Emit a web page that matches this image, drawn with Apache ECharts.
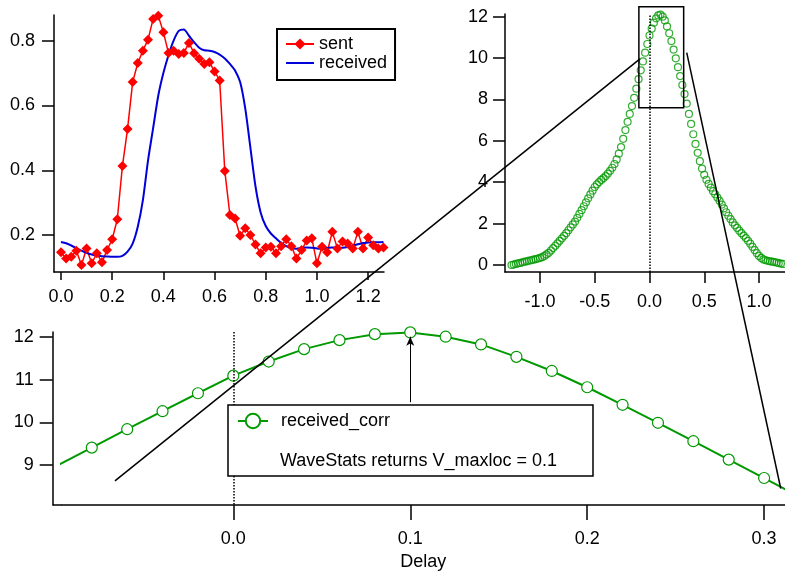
<!DOCTYPE html>
<html><head><meta charset="utf-8">
<script src="https://cdn.jsdelivr.net/npm/echarts@6/dist/echarts.min.js"></script>
<style>html,body{margin:0;padding:0;background:#fff}#c{width:785px;height:574px}</style>
</head><body><div id="c"></div>
<script>
// ---- data ----
const sentStart = 0, sentStep = 0.02;
const sentValues = [0.147,0.128,0.133,0.152,0.108,0.159,0.113,0.144,0.116,0.154,
  0.187,0.249,0.413,0.527,0.672,0.731,0.769,0.803,0.867,0.877,
  0.826,0.762,0.769,0.759,0.762,0.793,0.761,0.744,0.728,0.733,
  0.705,0.677,0.398,0.262,0.251,0.198,0.221,0.200,0.171,0.144,
  0.162,0.164,0.144,0.166,0.187,0.166,0.128,0.154,0.183,0.190,
  0.113,0.164,0.147,0.210,0.159,0.180,0.174,0.159,0.210,0.159,
  0.193,0.169,0.159,0.162];
const receivedValues = [0.179,0.175,0.168,0.160,0.152,0.145,0.140,0.137,0.135,0.134,
  0.133,0.133,0.136,0.149,0.174,0.226,0.308,0.430,0.530,0.630,
  0.700,0.755,0.800,0.830,0.834,0.815,0.795,0.778,0.770,0.769,
  0.765,0.757,0.745,0.728,0.708,0.672,0.590,0.470,0.350,0.270,
  0.228,0.205,0.190,0.176,0.166,0.160,0.158,0.160,0.162,0.161,
  0.159,0.158,0.160,0.162,0.161,0.161,0.163,0.167,0.172,0.176,
  0.177,0.178,0.178,0.179];
const corrStart = -1.26, corrStep = 0.02;
const corrValues = [0.00,0.02,0.05,0.08,0.10,0.13,0.16,0.18,0.21,0.23,
  0.26,0.28,0.31,0.34,0.38,0.44,0.51,0.59,0.70,0.82,
  0.93,1.05,1.17,1.29,1.41,1.54,1.68,1.82,1.96,2.10,
  2.28,2.47,2.65,2.84,3.03,3.22,3.41,3.59,3.77,3.90,
  4.01,4.11,4.20,4.30,4.42,4.55,4.70,4.88,5.10,5.38,
  5.70,6.10,6.52,6.92,7.30,7.68,8.08,8.52,8.98,9.41,
  9.84,10.26,10.68,11.09,11.42,11.71,11.92,12.06,12.10,12.00,
  11.82,11.53,11.20,10.82,10.41,9.99,9.56,9.13,8.70,8.26,
  7.80,7.30,6.82,6.32,5.85,5.42,5.02,4.66,4.36,4.12,
  3.92,3.74,3.57,3.42,3.26,3.10,2.92,2.74,2.55,2.38,
  2.22,2.06,1.92,1.79,1.66,1.54,1.42,1.30,1.17,1.03,
  0.88,0.72,0.57,0.44,0.34,0.27,0.23,0.20,0.18,0.16,
  0.14,0.12,0.09,0.07,0.05,0.03,0.01];
const topLeftXTicks = [0, 0.2, 0.4, 0.6, 0.8, 1.0, 1.2];
const topLeftYTicks = [0.2, 0.4, 0.6, 0.8];
const topRightXTicks = [-1.0, -0.5, 0, 0.5, 1.0];
const topRightYTicks = [0, 2, 4, 6, 8, 10, 12];
const bottomXTicks = [0, 0.1, 0.2, 0.3];
const bottomYTicks = [9, 10, 11, 12];
const maxLoc = 0.1;
const annotationText = 'WaveStats returns V_maxloc = 0.1';

// ---- build ----
const sentData = sentValues.map((v, i) => [sentStart + i * sentStep, v]);
const receivedData = receivedValues.map((v, i) => [sentStart + i * sentStep, v]);
const corrData = corrValues.map((v, i) => [corrStart + i * corrStep, v]);

const FONT = "'Liberation Sans', Arial, Helvetica, sans-serif";
const BLACK = '#000';
const GREEN = '#009900';

function axis(o) {
  return {
    type: 'value', gridIndex: o.grid, min: o.min, max: o.max, offset: o.offset || 0,
    axisLine: { show: true, onZero: false, lineStyle: { color: BLACK, width: 1.5 } },
    axisTick: { show: true, inside: false, length: o.tick, customValues: o.ticks, lineStyle: { color: BLACK, width: 1.5 } },
    axisLabel: { customValues: o.ticks, margin: o.margin, color: BLACK, fontSize: 18, fontFamily: FONT,
      formatter: o.fmt },
    splitLine: { show: false },
    name: o.name || '', nameLocation: 'middle', nameGap: o.nameGap || 0,
    nameTextStyle: { color: BLACK, fontSize: 18, fontFamily: FONT }
  };
}
const f1 = v => (+v).toFixed(1);
const f0 = v => String(Math.round(v));

const G0 = { left: 54, top: 15, width: 330, height: 257 };
const G1 = { left: 505, top: 14, width: 280, height: 258 };
const G2 = { left: 61.7, top: 332, width: 723.3, height: 173 };

const option = {
  animation: false,
  backgroundColor: '#fff',
  textStyle: { fontFamily: FONT },
  grid: [
    Object.assign({ containLabel: false }, G0),
    Object.assign({ containLabel: false }, G1),
    Object.assign({ containLabel: false }, G2)
  ],
  xAxis: [
    axis({ grid: 0, min: -0.0273, max: 1.262, tick: 8, ticks: topLeftXTicks, margin: 16, fmt: f1 }),
    axis({ grid: 1, min: -1.3196, max: 1.2374, tick: 11, ticks: topRightXTicks, margin: 21, fmt: f1 }),
    axis({ grid: 2, min: -0.097, max: 0.3118, tick: 15, ticks: bottomXTicks, margin: 25, fmt: f1, name: 'Delay', nameGap: 48 })
  ],
  yAxis: [
    axis({ grid: 0, min: 0.0862, max: 0.879, tick: 12, ticks: topLeftYTicks, margin: 19, fmt: f1 }),
    axis({ grid: 1, min: -0.338, max: 12.13, tick: 12, ticks: topRightYTicks, margin: 17, fmt: f0 }),
    axis({ grid: 2, min: 8.07, max: 12.11, tick: 13, ticks: bottomYTicks, margin: 19, fmt: f0, offset: 9 })
  ],
  legend: [
    {
      data: ['sent', { name: 'received', itemStyle: { opacity: 0 } }],
      left: 277, top: 29, orient: 'vertical', selectedMode: false,
      borderColor: BLACK, borderWidth: 2, backgroundColor: '#fff', padding: [6, 8, 8, 8],
      itemWidth: 28, itemHeight: 14, itemGap: 1, z: 10,
      textStyle: { fontSize: 18, fontFamily: FONT, color: BLACK, lineHeight: 16 }
    },
    {
      data: ['received_corr'], left: 237, top: 412, orient: 'vertical', selectedMode: false,
      padding: 0, itemWidth: 30, itemHeight: 18, z: 10,
      textStyle: { fontSize: 18, fontFamily: FONT, color: BLACK, padding: [0, 0, 0, 8] }
    }
  ],
  series: [
    {
      name: 'sent', type: 'line', xAxisIndex: 0, yAxisIndex: 0, data: sentData,
      symbol: 'diamond', symbolSize: 10, showAllSymbol: true, z: 3,
      itemStyle: { color: '#ff0000' }, lineStyle: { color: '#ff0000', width: 1.5 }
    },
    {
      name: 'received', type: 'line', xAxisIndex: 0, yAxisIndex: 0, data: receivedData,
      symbol: 'none', smooth: 0.25, itemStyle: { color: '#0000d8' }, lineStyle: { color: '#0000d8', width: 2 }
    },
    {
      name: 'received_corr_full', type: 'scatter', xAxisIndex: 1, yAxisIndex: 1, data: corrData,
      symbol: 'circle', symbolSize: 7,
      itemStyle: { color: 'rgba(255,255,255,0)', borderColor: GREEN, borderWidth: 1.2 },
      markLine: {
        silent: true, symbol: 'none', animation: false,
        label: { show: false },
        lineStyle: { type: 'dotted', color: BLACK, width: 1.5 },
        data: [{ xAxis: 0 }]
      }
    },
    {
      name: 'received_corr', type: 'line', xAxisIndex: 2, yAxisIndex: 2, data: corrData,
      symbol: 'circle', symbolSize: 11, showAllSymbol: true, z: 3,
      itemStyle: { color: '#fff', borderColor: GREEN, borderWidth: 1.2 },
      lineStyle: { color: GREEN, width: 2 },
      markLine: {
        silent: true, animation: false, label: { show: false },
        data: [
          [{ coord: [0, 12.11], symbol: 'none', lineStyle: { type: 'dotted', color: BLACK, width: 1.5 } },
           { coord: [0, 8.07], symbol: 'none' }],
          [{ coord: [maxLoc, 10.47], symbol: 'none', lineStyle: { type: 'solid', color: BLACK, width: 1 } },
           { coord: [maxLoc, 12.0], symbol: 'arrow', symbolSize: [6, 9] }]
        ]
      }
    }
  ]
};

const chart = echarts.init(document.getElementById('c'), null, { renderer: 'canvas' });
chart.setOption(option);

// ---- annotations (connector lines, zoom box, text box) ----
const p1 = (x, y) => chart.convertToPixel({ xAxisIndex: 1, yAxisIndex: 1 }, [x, y]);
const p2 = (x, y) => chart.convertToPixel({ xAxisIndex: 2, yAxisIndex: 2 }, [x, y]);
const zA = p1(-0.097, 12.48), zB = p1(0.312, 7.6);
const l1a = p1(-0.087, 9.96), l1b = p2(-0.0669, 8.634);
const l2a = p1(0.340, 10.26), l2b = p2(0.3094, 8.456);
const axisBottomY = G2.top + G2.height;

chart.setOption({
  graphic: [
    { type: 'line', z: 50, shape: { x1: G2.left - 9, y1: axisBottomY, x2: G2.left, y2: axisBottomY },
      style: { stroke: BLACK, lineWidth: 1.5 } },
    { type: 'rect', z: 5, shape: { x: 228, y: 405, width: 365, height: 71 },
      style: { fill: '#fff', stroke: BLACK, lineWidth: 1.5 } },
    { type: 'text', z: 6, x: 280, y: 461.5,
      style: { text: annotationText, fill: BLACK, fontSize: 18, fontFamily: FONT, verticalAlign: 'middle', align: 'left' } },
    { type: 'rect', z: 60, shape: { x: zA[0], y: zA[1], width: zB[0] - zA[0], height: zB[1] - zA[1] },
      style: { fill: 'none', stroke: BLACK, lineWidth: 1.5 } },
    { type: 'line', z: 60, shape: { x1: l1a[0], y1: l1a[1], x2: l1b[0], y2: l1b[1] },
      style: { stroke: BLACK, lineWidth: 1.5 } },
    { type: 'line', z: 60, shape: { x1: l2a[0], y1: l2a[1], x2: l2b[0], y2: l2b[1] },
      style: { stroke: BLACK, lineWidth: 1.5 } }
  ]
});
</script>
</body></html>
